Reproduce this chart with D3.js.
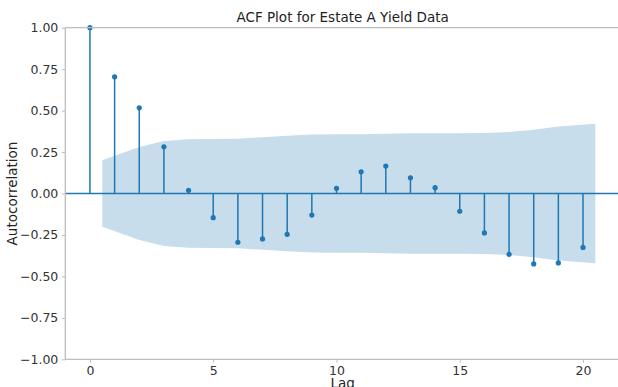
<!DOCTYPE html>
<html>
<head>
<meta charset="utf-8">
<script src="https://cdn.jsdelivr.net/npm/d3@7.9.0/dist/d3.min.js"></script>
<style>
  body { margin: 0; background: #fff; }
  svg { display: block; font-family: "DejaVu Sans", sans-serif; }
</style>
</head>
<body>
<div id="chart"></div>
<script>
// ACF values, lags 0..20
const lags = d3.range(0, 21);
const acfValues = [1.0, 0.704, 0.517, 0.282, 0.019, -0.146, -0.294, -0.274, -0.246, -0.13,
  0.031, 0.131, 0.166, 0.095, 0.035, -0.107, -0.238, -0.367, -0.425, -0.419, -0.325];

// half-width of the confidence band, lags 1..20
const bandLags = [0.5, 2, 3, 4, 5, 6, 7, 8, 9, 10, 11, 12, 13, 14, 15, 16, 17, 18, 19, 20.5];
const bandValues = [0.2, 0.281, 0.317, 0.327, 0.328, 0.33, 0.34, 0.349, 0.356, 0.357,
  0.358, 0.36, 0.363, 0.364, 0.364, 0.365, 0.371, 0.385, 0.404, 0.42];

const yTicks = [-1, -0.75, -0.5, -0.25, 0, 0.25, 0.5, 0.75, 1];
const xTicks = [0, 5, 10, 15, 20];

const W = 618, H = 387;
const margin = { top: 27.7, left: 65.3, right: -2, bottom: 27.7 };
const blue = "#1f77b4";
const spine = "#bdbdbd";

const svg = d3.select("#chart").append("svg")
  .attr("width", W).attr("height", H);

const x = d3.scaleLinear().domain([-1, 21.5]).range([margin.left, W - margin.right]);
const y = d3.scaleLinear().domain([-1, 1]).range([H - margin.bottom, margin.top]);

// stems
svg.append("g").selectAll("line")
  .data(lags)
  .join("line")
  .attr("x1", (d) => x(d)).attr("x2", (d) => x(d))
  .attr("y1", y(0)).attr("y2", (d) => y(acfValues[d]))
  .attr("stroke", blue).attr("stroke-width", 1.5);

// markers
svg.append("g").selectAll("circle")
  .data(lags)
  .join("circle")
  .attr("cx", (d) => x(d))
  .attr("cy", (d) => y(acfValues[d]))
  .attr("r", 2.6)
  .attr("fill", blue);

// zero line
svg.append("line")
  .attr("x1", x(-1)).attr("x2", x(21.5))
  .attr("y1", y(0)).attr("y2", y(0))
  .attr("stroke", blue).attr("stroke-width", 1.3);

// confidence band
const area = d3.area()
  .x((d, i) => x(bandLags[i]))
  .y0((d) => y(-d))
  .y1((d) => y(d));
svg.append("path")
  .datum(bandValues)
  .attr("d", area)
  .attr("fill", blue)
  .attr("fill-opacity", 0.25);

// axes
const yAxis = d3.axisLeft(y).tickValues(yTicks).tickSize(3.5).tickPadding(3.5)
  .tickFormat((d) => d3.format(".2f")(d).replace("-", "\u2212"));
const gy = svg.append("g").attr("transform", `translate(${margin.left},0)`).call(yAxis);

const xAxis = d3.axisBottom(x).tickValues(xTicks).tickSize(3.5).tickPadding(3.5);
const gx = svg.append("g").attr("transform", `translate(0,${H - margin.bottom})`).call(xAxis);

[gx, gy].forEach((g) => {
  g.select(".domain").remove();
  g.selectAll(".tick line").attr("stroke", spine);
  g.selectAll(".tick text").attr("fill", "#333").attr("font-size", 12.5)
    .attr("font-family", "DejaVu Sans, sans-serif");
});

// spines
svg.append("line").attr("x1", margin.left).attr("x2", margin.left)
  .attr("y1", margin.top).attr("y2", H - margin.bottom)
  .attr("stroke", spine).attr("stroke-width", 1.3);
svg.append("line").attr("x1", margin.left).attr("x2", W + 5)
  .attr("y1", H - margin.bottom).attr("y2", H - margin.bottom)
  .attr("stroke", spine).attr("stroke-width", 1.3);
svg.append("line").attr("x1", margin.left).attr("x2", W + 5)
  .attr("y1", margin.top).attr("y2", margin.top)
  .attr("stroke", spine).attr("stroke-width", 1.3);

// title and labels
svg.append("text")
  .attr("x", (margin.left + x(21.5)) / 2).attr("y", 22)
  .attr("text-anchor", "middle").attr("font-size", 13.5).attr("fill", "#222")
  .text("ACF Plot for Estate A Yield Data");

svg.append("text")
  .attr("x", (margin.left + x(21.5)) / 2).attr("y", 388)
  .attr("text-anchor", "middle").attr("font-size", 13.5).attr("fill", "#222")
  .text("Lag");

svg.append("text")
  .attr("transform", `translate(17,${y(0)}) rotate(-90)`)
  .attr("text-anchor", "middle").attr("font-size", 13.5).attr("fill", "#222")
  .text("Autocorrelation");
</script>
</body>
</html>
